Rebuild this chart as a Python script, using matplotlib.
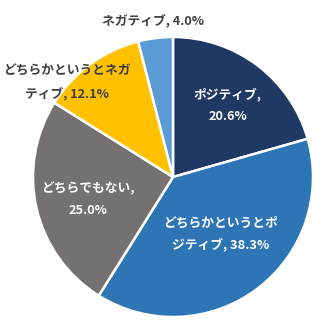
import matplotlib.pyplot as plt

plt.rcParams['font.family'] = ['Noto Sans CJK JP', 'DejaVu Sans']

# Sentiment share (%)
categories = ["ポジティブ", "どちらかというとポジティブ", "どちらでもない",
              "どちらかというとネガティブ", "ネガティブ"]
values = [20.6, 38.3, 25.0, 12.1, 4.0]
colors = ["#1F3864", "#2E75B6", "#767171", "#FFC000", "#5B9BD5"]

# where each label wraps onto a second line (None = single line)
wrap_at = [6, 9, 8, 10, None]
label_pos = [(0.39, 0.51), (0.34, -0.41), (-0.61, -0.16), (-0.76, 0.67), (-0.14, 1.11)]
label_color = ["white", "white", "white", "#404040", "#404040"]

fig = plt.figure(figsize=(3.31, 3.31), dpi=100)
ax = fig.add_axes([0, 0, 1, 1])

ax.pie(values, colors=colors, startangle=90, counterclock=False, radius=1.0,
       wedgeprops=dict(edgecolor="white", linewidth=1.8))

for cat, val, w, pos, c in zip(categories, values, wrap_at, label_pos, label_color):
    text = f"{cat}, {val:.1f}%"
    if w is not None:
        text = text[:w] + "\n" + text[w:].strip()
    ax.text(pos[0], pos[1], text, ha="center", va="center", color=c,
            fontsize=9.2, fontweight="bold", linespacing=1.9)

ax.set_xlim(-173 / 140, 158 / 140)
ax.set_ylim(-154 / 140, 177 / 140)
ax.set_aspect("equal")
ax.axis("off")

fig.savefig("out.png", dpi=100)
